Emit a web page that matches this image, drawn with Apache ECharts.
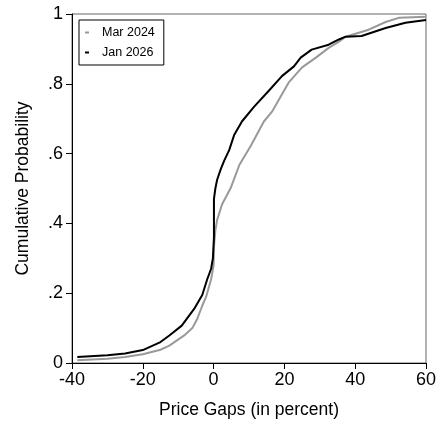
<!DOCTYPE html>
<html>
<head>
<meta charset="utf-8">
<style>
  html, body { margin: 0; padding: 0; background: #fff; }
  #chart { width: 439px; height: 424px; }
</style>
<script src="https://cdn.jsdelivr.net/npm/echarts@6/dist/echarts.min.js"></script>
</head>
<body>
<div id="chart"></div>
<script>
// Empirical CDFs of price gaps (percent) for two survey dates
const gapsMar2024 = [-38.5, -30, -25, -20, -15, -12.5, -8.3, -6, -4.6, -3.2, -2.1, -0.7, 0, 0.1, 0.5, 1, 2.4, 4.9, 7.3, 10.6, 14.2, 16.5, 21.3, 25, 28.9, 32.5, 35.4, 37.3, 43.8, 48.6, 52.3, 60];
const cdfMar2024  = [0.008, 0.012, 0.017, 0.025, 0.038, 0.05, 0.079, 0.1, 0.127, 0.164, 0.19, 0.24, 0.28, 0.333, 0.38, 0.41, 0.455, 0.503, 0.568, 0.624, 0.692, 0.72, 0.805, 0.847, 0.875, 0.903, 0.921, 0.935, 0.955, 0.977, 0.989, 0.992];

const gapsJan2026 = [-38.5, -30, -25, -20, -15, -12.5, -9, -5.5, -3.2, -1.8, -0.7, -0.2, 0.1, 0.1, 0.5, 1, 2, 3, 4.4, 5.8, 8, 11.4, 15.6, 19.3, 22.7, 24.6, 27.7, 32.5, 35.4, 37.3, 41.8, 48.6, 54.2, 60];
const cdfJan2026  = [0.017, 0.022, 0.027, 0.037, 0.06, 0.079, 0.107, 0.155, 0.195, 0.24, 0.27, 0.30, 0.36, 0.47, 0.50, 0.525, 0.555, 0.58, 0.61, 0.653, 0.692, 0.734, 0.78, 0.822, 0.85, 0.875, 0.898, 0.912, 0.927, 0.935, 0.937, 0.96, 0.975, 0.983];

const xTicks = [-40, -20, 0, 20, 40, 60];
const yTickLabels = {0: '0', 0.2: '.2', 0.4: '.4', 0.6: '.6', 0.8: '.8', 1: '1'};

const pairs = (xs, ys) => xs.map((x, i) => [x, ys[i]]);
const font = 'Liberation Sans, Arial, Helvetica, sans-serif';

const chart = echarts.init(document.getElementById('chart'), null, { renderer: 'canvas' });
chart.setOption({
  animation: false,
  backgroundColor: '#fff',
  textStyle: { fontFamily: font },
  grid: {
    left: 72, right: 12, top: 14, bottom: 56,
    show: true, borderColor: '#666', borderWidth: 1, backgroundColor: 'transparent'
  },
  legend: {
    orient: 'vertical',
    left: 79, top: 20,
    borderColor: '#000', borderWidth: 1,
    padding: [6, 9, 6, 6],
    itemGap: 7,
    itemWidth: 4, itemHeight: 2,
    icon: 'rect',
    textStyle: { fontFamily: font, fontSize: 12.5, color: '#000', padding: [0, 0, 0, 8] },
    data: ['Mar 2024', 'Jan 2026']
  },
  xAxis: {
    type: 'value',
    min: xTicks[0], max: xTicks[xTicks.length - 1], interval: 20,
    name: 'Price Gaps (in percent)',
    nameLocation: 'middle', nameGap: 38,
    nameTextStyle: { fontFamily: font, fontSize: 17.5, color: '#000' },
    axisLine: { show: true, onZero: false, lineStyle: { color: '#000', width: 1 } },
    axisTick: { show: true, length: 6, lineStyle: { color: '#000' } },
    axisLabel: { fontFamily: font, fontSize: 18, color: '#000', margin: 8 },
    splitLine: { show: false }
  },
  yAxis: {
    type: 'value',
    min: 0, max: 1, interval: 0.2,
    name: 'Cumulative Probability',
    nameLocation: 'middle', nameGap: 40,
    nameTextStyle: { fontFamily: font, fontSize: 17.5, color: '#000' },
    axisLine: { show: true, onZero: false, lineStyle: { color: '#000', width: 1 } },
    axisTick: { show: true, length: 6, lineStyle: { color: '#000' } },
    axisLabel: {
      fontFamily: font, fontSize: 18, color: '#000', margin: 9,
      formatter: v => yTickLabels[Math.round(v * 10) / 10] ?? String(v)
    },
    splitLine: { show: false }
  },
  series: [
    {
      name: 'Mar 2024', type: 'line', showSymbol: false, symbol: 'none',
      data: pairs(gapsMar2024, cdfMar2024),
      lineStyle: { color: '#999', width: 2 }, itemStyle: { color: '#999' }
    },
    {
      name: 'Jan 2026', type: 'line', showSymbol: false, symbol: 'none',
      data: pairs(gapsJan2026, cdfJan2026),
      lineStyle: { color: '#000', width: 2 }, itemStyle: { color: '#000' }
    }
  ]
});
</script>
</body>
</html>
